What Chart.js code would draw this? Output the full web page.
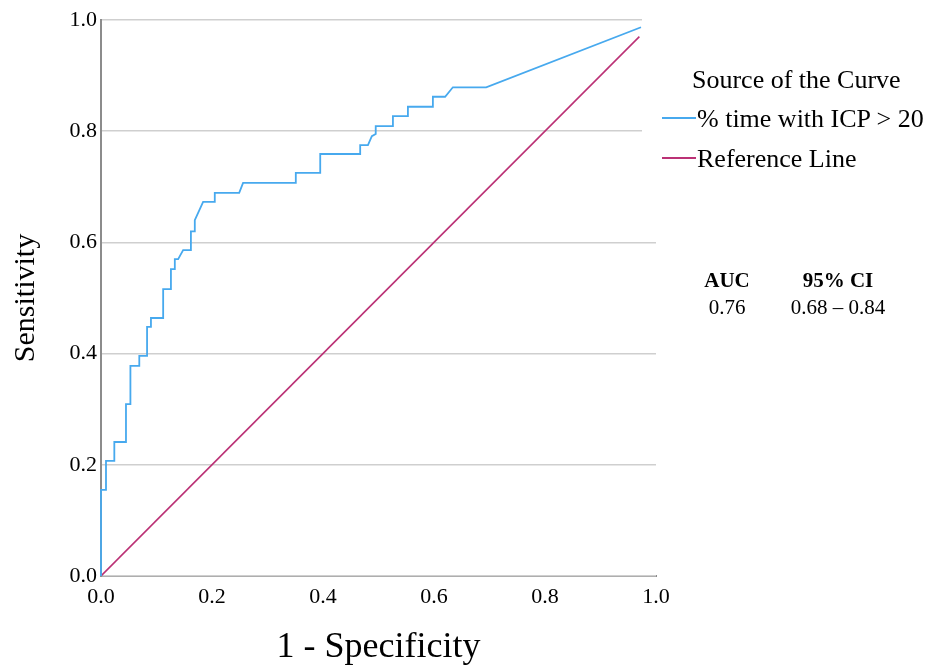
<!DOCTYPE html>
<html>
<head>
<meta charset="utf-8">
<script src="https://cdn.jsdelivr.net/npm/chart.js@4/dist/chart.umd.min.js"></script>
<style>
  html, body { margin: 0; padding: 0; background: #fff; }
  #wrap { position: relative; width: 949px; height: 667px; font-family: "Liberation Serif", "Times New Roman", serif; color: #000; }
  #roc { position: absolute; left: 0; top: 0; }
  .lg { position: absolute; font-size: 26px; line-height: 26px; white-space: nowrap; }
  .sw { position: absolute; width: 34px; height: 2px; }
  .auc { position: absolute; font-size: 21px; line-height: 21px; white-space: nowrap; text-align: center; width: 120px; }
  .auc.b { font-weight: bold; }
</style>
</head>
<body>
<div id="wrap">
  <canvas id="roc" width="949" height="667"></canvas>
  <div class="lg" style="left:692px; top:67px;">Source of the Curve</div>
  <div class="sw" style="left:662px; top:117px; background:#47a9ee;"></div>
  <div class="lg" style="left:697px; top:106px;">% time with ICP &gt; 20</div>
  <div class="sw" style="left:662px; top:157px; background:#bb3175;"></div>
  <div class="lg" style="left:697px; top:146px;">Reference Line</div>
  <div class="auc b" style="left:667px; top:270px;">AUC</div>
  <div class="auc b" style="left:778px; top:270px;">95% CI</div>
  <div class="auc" style="left:667px; top:297px;">0.76</div>
  <div class="auc" style="left:778px; top:297px;">0.68 – 0.84</div>
</div>
<script>
// ROC curve: 1 - specificity (x) vs sensitivity (y), step vertices.
const FPR = [0, 0, 0.009, 0.009, 0.024, 0.024, 0.045, 0.045, 0.053, 0.053, 0.069, 0.069,
             0.083, 0.083, 0.090, 0.090, 0.112, 0.112, 0.126, 0.126, 0.133, 0.133, 0.139,
             0.148, 0.162, 0.162, 0.169, 0.169, 0.184, 0.205, 0.205, 0.249, 0.256, 0.351,
             0.351, 0.395, 0.395, 0.467, 0.467, 0.481, 0.488, 0.495, 0.495, 0.526, 0.526,
             0.553, 0.553, 0.598, 0.598, 0.620, 0.634, 0.694, 0.973];
const TPR = [0, 0.155, 0.155, 0.207, 0.207, 0.241, 0.241, 0.309, 0.309, 0.378, 0.378, 0.396,
             0.396, 0.448, 0.448, 0.464, 0.464, 0.516, 0.516, 0.552, 0.552, 0.570, 0.570,
             0.586, 0.586, 0.620, 0.620, 0.640, 0.673, 0.673, 0.689, 0.689, 0.707, 0.707,
             0.725, 0.725, 0.759, 0.759, 0.775, 0.775, 0.791, 0.795, 0.809, 0.809, 0.827,
             0.827, 0.844, 0.844, 0.862, 0.862, 0.879, 0.879, 0.987];
// Diagonal reference line (chance).
const REF_X = [0, 0.97];
const REF_Y = [0, 0.97];

const TICK_VALUES = [0, 0.2, 0.4, 0.6, 0.8, 1.0];
const TICK_LABELS = ["0.0", "0.2", "0.4", "0.6", "0.8", "1.0"];

const BLUE = "#47a9ee";
const MAGENTA = "#bb3175";

const toPoints = (xs, ys) => xs.map((x, i) => ({ x, y: ys[i] }));
const fixedTicks = (scale) => { scale.ticks = TICK_VALUES.map((v) => ({ value: v })); };
const tickText = (v) => TICK_LABELS[TICK_VALUES.findIndex((t) => Math.abs(t - v) < 1e-6)] ?? "";

// White panel behind the legend, clips the top gridlines like the original.
const legendPanel = {
  id: "legendPanel",
  beforeDatasetsDraw(chart) {
    const { ctx, chartArea } = chart;
    ctx.save();
    ctx.fillStyle = "#fff";
    ctx.fillRect(642, 0, chart.width - 642, chartArea.top + 130);
    ctx.restore();
  },
};

new Chart(document.getElementById("roc"), {
  type: "scatter",
  data: {
    datasets: [
      { label: "% time with ICP > 20", data: toPoints(FPR, TPR), showLine: true, clip: 4,
        borderColor: BLUE, borderWidth: 1.8, pointRadius: 0, tension: 0 },
      { label: "Reference Line", data: toPoints(REF_X, REF_Y), showLine: true,
        borderColor: MAGENTA, borderWidth: 1.6, pointRadius: 0, tension: 0 },
    ],
  },
  options: {
    responsive: false,
    animation: false,
    layout: { padding: { top: 20, right: 293, bottom: 0, left: 0 } },
    plugins: { legend: { display: false }, tooltip: { enabled: false } },
    scales: {
      x: {
        type: "linear", min: 0, max: 1,
        afterBuildTicks: fixedTicks,
        afterFit: (s) => { s.height = 91; },
        grid: { display: false, drawTicks: false },
        border: { display: true, color: "#8c8c8c", width: 2, z: -1 },
        ticks: { color: "#000", padding: 8, maxRotation: 0, autoSkip: false,
                 font: { family: "Liberation Serif", size: 22 }, callback: tickText },
        title: { display: true, text: "1 - Specificity", color: "#000",
                 font: { family: "Liberation Serif", size: 36, lineHeight: 1 },
                 padding: { top: 0, bottom: 1 } },
      },
      y: {
        type: "linear", min: 0, max: 1,
        afterBuildTicks: fixedTicks,
        afterFit: (s) => { s.width = 101; },
        grid: { color: "#cfcfcf", lineWidth: 1.6, drawTicks: false },
        border: { display: true, color: "#8c8c8c", width: 2, z: -1 },
        ticks: { color: "#000", padding: 4, autoSkip: false,
                 font: { family: "Liberation Serif", size: 22 }, callback: tickText },
        title: { display: true, text: "Sensitivity", color: "#000",
                 font: { family: "Liberation Serif", size: 30, lineHeight: 1 },
                 padding: { top: 11, bottom: 0 } },
      },
    },
  },
  plugins: [legendPanel],
});
</script>
</body>
</html>
